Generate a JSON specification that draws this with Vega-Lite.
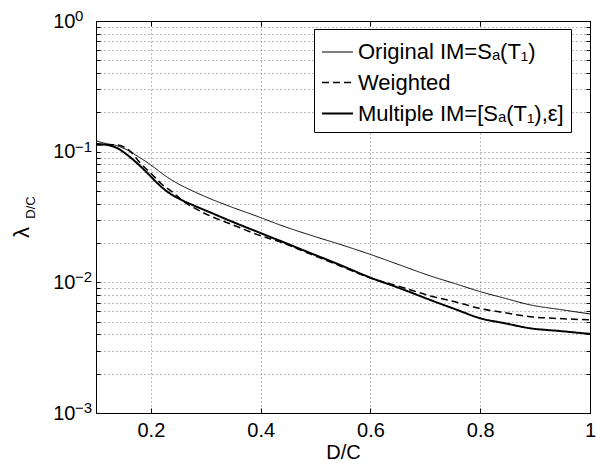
{
  "$schema": "https://vega.github.io/schema/vega-lite/v6.json",
  "width": 494,
  "height": 392,
  "autosize": "none",
  "padding": {"left": 96, "top": 21, "right": 6, "bottom": 48},
  "background": "white",
  "config": {
    "font": "Liberation Sans",
    "view": {"stroke": "black", "strokeWidth": 1},
    "axis": {
      "domainColor": "black",
      "tickColor": "black",
      "labelColor": "black",
      "titleColor": "black",
      "labelFont": "Liberation Sans",
      "titleFont": "Liberation Sans",
      "labelFontSize": 20,
      "titleFontSize": 20,
      "titleFontWeight": "normal",
      "gridColor": "#777777",
      "gridDash": [1, 3],
      "gridWidth": 1,
      "gridOpacity": 1
    }
  },
  "datasets": {
    "exps": [
      {"tick": 1, "exp": "0"},
      {"tick": 0.1, "exp": "−1"},
      {"tick": 0.01, "exp": "−2"},
      {"tick": 0.001, "exp": "−3"}
    ]
  },
  "data": {
    "values": [
      {"s": "Original IM=Sₐ(T₁)", "x": 0.100, "y": 0.121},
      {"s": "Original IM=Sₐ(T₁)", "x": 0.120, "y": 0.115},
      {"s": "Original IM=Sₐ(T₁)", "x": 0.133, "y": 0.1125},
      {"s": "Original IM=Sₐ(T₁)", "x": 0.157, "y": 0.103},
      {"s": "Original IM=Sₐ(T₁)", "x": 0.175, "y": 0.0927},
      {"s": "Original IM=Sₐ(T₁)", "x": 0.200, "y": 0.0791},
      {"s": "Original IM=Sₐ(T₁)", "x": 0.224, "y": 0.0663},
      {"s": "Original IM=Sₐ(T₁)", "x": 0.248, "y": 0.0573},
      {"s": "Original IM=Sₐ(T₁)", "x": 0.279, "y": 0.0494},
      {"s": "Original IM=Sₐ(T₁)", "x": 0.310, "y": 0.0433},
      {"s": "Original IM=Sₐ(T₁)", "x": 0.344, "y": 0.0381},
      {"s": "Original IM=Sₐ(T₁)", "x": 0.399, "y": 0.0314},
      {"s": "Original IM=Sₐ(T₁)", "x": 0.435, "y": 0.0275},
      {"s": "Original IM=Sₐ(T₁)", "x": 0.490, "y": 0.0230},
      {"s": "Original IM=Sₐ(T₁)", "x": 0.545, "y": 0.0195},
      {"s": "Original IM=Sₐ(T₁)", "x": 0.599, "y": 0.0164},
      {"s": "Original IM=Sₐ(T₁)", "x": 0.654, "y": 0.01355},
      {"s": "Original IM=Sₐ(T₁)", "x": 0.709, "y": 0.0112},
      {"s": "Original IM=Sₐ(T₁)", "x": 0.755, "y": 0.00975},
      {"s": "Original IM=Sₐ(T₁)", "x": 0.800, "y": 0.00849},
      {"s": "Original IM=Sₐ(T₁)", "x": 0.845, "y": 0.00755},
      {"s": "Original IM=Sₐ(T₁)", "x": 0.891, "y": 0.00672},
      {"s": "Original IM=Sₐ(T₁)", "x": 0.945, "y": 0.0062},
      {"s": "Original IM=Sₐ(T₁)", "x": 1.000, "y": 0.00573},
      {"s": "Weighted", "x": 0.100, "y": 0.1125},
      {"s": "Weighted", "x": 0.120, "y": 0.1130},
      {"s": "Weighted", "x": 0.139, "y": 0.1125},
      {"s": "Weighted", "x": 0.163, "y": 0.1000},
      {"s": "Weighted", "x": 0.181, "y": 0.0815},
      {"s": "Weighted", "x": 0.200, "y": 0.0684},
      {"s": "Weighted", "x": 0.218, "y": 0.0573},
      {"s": "Weighted", "x": 0.242, "y": 0.0480},
      {"s": "Weighted", "x": 0.260, "y": 0.0414},
      {"s": "Weighted", "x": 0.279, "y": 0.0371},
      {"s": "Weighted", "x": 0.308, "y": 0.0322},
      {"s": "Weighted", "x": 0.344, "y": 0.0281},
      {"s": "Weighted", "x": 0.399, "y": 0.0228},
      {"s": "Weighted", "x": 0.435, "y": 0.0204},
      {"s": "Weighted", "x": 0.490, "y": 0.0165},
      {"s": "Weighted", "x": 0.545, "y": 0.01335},
      {"s": "Weighted", "x": 0.599, "y": 0.01084},
      {"s": "Weighted", "x": 0.654, "y": 0.00927},
      {"s": "Weighted", "x": 0.709, "y": 0.00787},
      {"s": "Weighted", "x": 0.754, "y": 0.0071},
      {"s": "Weighted", "x": 0.800, "y": 0.00631},
      {"s": "Weighted", "x": 0.845, "y": 0.00585},
      {"s": "Weighted", "x": 0.891, "y": 0.00546},
      {"s": "Weighted", "x": 0.945, "y": 0.00528},
      {"s": "Weighted", "x": 1.000, "y": 0.00516},
      {"s": "Multiple IM=[Sₐ(T₁),ε]", "x": 0.100, "y": 0.1145},
      {"s": "Multiple IM=[Sₐ(T₁),ε]", "x": 0.121, "y": 0.1125},
      {"s": "Multiple IM=[Sₐ(T₁),ε]", "x": 0.139, "y": 0.1062},
      {"s": "Multiple IM=[Sₐ(T₁),ε]", "x": 0.157, "y": 0.0944},
      {"s": "Multiple IM=[Sₐ(T₁),ε]", "x": 0.175, "y": 0.0815},
      {"s": "Multiple IM=[Sₐ(T₁),ε]", "x": 0.194, "y": 0.0684},
      {"s": "Multiple IM=[Sₐ(T₁),ε]", "x": 0.212, "y": 0.0573},
      {"s": "Multiple IM=[Sₐ(T₁),ε]", "x": 0.230, "y": 0.0494},
      {"s": "Multiple IM=[Sₐ(T₁),ε]", "x": 0.254, "y": 0.0431},
      {"s": "Multiple IM=[Sₐ(T₁),ε]", "x": 0.279, "y": 0.0386},
      {"s": "Multiple IM=[Sₐ(T₁),ε]", "x": 0.308, "y": 0.0343},
      {"s": "Multiple IM=[Sₐ(T₁),ε]", "x": 0.344, "y": 0.0296},
      {"s": "Multiple IM=[Sₐ(T₁),ε]", "x": 0.399, "y": 0.0239},
      {"s": "Multiple IM=[Sₐ(T₁),ε]", "x": 0.435, "y": 0.0208},
      {"s": "Multiple IM=[Sₐ(T₁),ε]", "x": 0.490, "y": 0.0168},
      {"s": "Multiple IM=[Sₐ(T₁),ε]", "x": 0.545, "y": 0.01356},
      {"s": "Multiple IM=[Sₐ(T₁),ε]", "x": 0.599, "y": 0.0109},
      {"s": "Multiple IM=[Sₐ(T₁),ε]", "x": 0.654, "y": 0.0090},
      {"s": "Multiple IM=[Sₐ(T₁),ε]", "x": 0.709, "y": 0.00733},
      {"s": "Multiple IM=[Sₐ(T₁),ε]", "x": 0.754, "y": 0.00624},
      {"s": "Multiple IM=[Sₐ(T₁),ε]", "x": 0.800, "y": 0.00531},
      {"s": "Multiple IM=[Sₐ(T₁),ε]", "x": 0.845, "y": 0.00486},
      {"s": "Multiple IM=[Sₐ(T₁),ε]", "x": 0.891, "y": 0.00445},
      {"s": "Multiple IM=[Sₐ(T₁),ε]", "x": 0.945, "y": 0.00424},
      {"s": "Multiple IM=[Sₐ(T₁),ε]", "x": 1.000, "y": 0.00403}
    ]
  },
  "layer": [
    {
      "mark": {"type": "line", "color": "black", "strokeCap": "butt", "strokeJoin": "round", "interpolate": "monotone"},
      "encoding": {
        "x": {
          "field": "x", "type": "quantitative",
          "scale": {"domain": [0.1, 1], "nice": false, "zero": false},
          "axis": {
            "orient": "bottom", "title": "D/C", "values": [0.2, 0.4, 0.6, 0.8, 1],
            "labelExpr": "datum.value == 1 ? '1' : format(datum.value, '.1f')",
            "grid": true, "tickSize": -5, "labelPadding": 12, "titlePadding": 2,
            "labelFlush": false, "labelOverlap": false
          }
        },
        "y": {
          "field": "y", "type": "quantitative",
          "scale": {"type": "log", "domain": [0.001, 1], "nice": false},
          "axis": {
            "orient": "left", "title": "λ",
            "values": [0.001, 0.002, 0.003, 0.004, 0.005, 0.006, 0.007, 0.008, 0.009, 0.01, 0.02, 0.03, 0.04, 0.05, 0.06, 0.07, 0.08, 0.09, 0.1, 0.2, 0.3, 0.4, 0.5, 0.6, 0.7, 0.8, 0.9, 1],
            "labelExpr": "datum.value == 1 || datum.value == 0.1 || datum.value == 0.01 || datum.value == 0.001 ? '10' : ''",
            "grid": true, "tickSize": -4, "labelPadding": 25,
            "labelFlush": false, "labelOverlap": false,
            "titleFontSize": 22, "titleAngle": -90, "titleAlign": "center", "titleBaseline": "alphabetic",
            "titleX": -68, "titleY": 211
          }
        },
        "strokeDash": {
          "field": "s", "type": "nominal",
          "scale": {"domain": ["Original IM=Sₐ(T₁)", "Weighted", "Multiple IM=[Sₐ(T₁),ε]"], "range": [[1, 0], [7, 4], [1, 0]]},
          "legend": {
            "orient": "none", "legendX": 218, "legendY": 8, "title": null,
            "symbolType": "stroke", "symbolSize": 961, "symbolStrokeColor": "black",
            "labelFontSize": 22, "labelFont": "Liberation Sans", "labelColor": "black", "labelLimit": 400,
            "labelOffset": 4, "strokeColor": "black", "fillColor": "white", "padding": 7, "rowPadding": 3,
            "cornerRadius": 0
          }
        },
        "strokeWidth": {
          "field": "s", "type": "nominal",
          "scale": {"domain": ["Original IM=Sₐ(T₁)", "Weighted", "Multiple IM=[Sₐ(T₁),ε]"], "range": [1, 2, 2.5]},
          "legend": {
            "orient": "none", "legendX": 218, "legendY": 8, "title": null,
            "symbolType": "stroke", "symbolSize": 961, "symbolStrokeColor": "black",
            "labelFontSize": 22, "labelFont": "Liberation Sans", "labelColor": "black", "labelLimit": 400,
            "labelOffset": 4, "strokeColor": "black", "fillColor": "white", "padding": 7, "rowPadding": 3,
            "cornerRadius": 0
          }
        }
      }
    },
    {
      "mark": {"type": "line", "strokeOpacity": 0},
      "encoding": {
        "x": {
          "field": "x", "type": "quantitative",
          "axis": {"orient": "top", "title": null, "values": [0.2, 0.4, 0.6, 0.8, 1], "labels": false, "grid": false, "tickSize": -5}
        },
        "y": {
          "field": "y", "type": "quantitative",
          "axis": {
            "orient": "right", "title": "D/C", "grid": false, "tickSize": -4, "labels": false,
            "values": [0.001, 0.002, 0.003, 0.004, 0.005, 0.006, 0.007, 0.008, 0.009, 0.01, 0.02, 0.03, 0.04, 0.05, 0.06, 0.07, 0.08, 0.09, 0.1, 0.2, 0.3, 0.4, 0.5, 0.6, 0.7, 0.8, 0.9, 1],
            "titleFontSize": 13, "titleAngle": -90, "titleAlign": "center", "titleBaseline": "alphabetic",
            "titleX": -556, "titleY": 186
          }
        },
        "detail": {"field": "s", "type": "nominal"}
      }
    },
    {
      "data": {"name": "exps"},
      "mark": {"type": "text", "align": "left", "baseline": "middle", "dx": -21, "dy": -5, "fontSize": 15, "font": "Liberation Sans", "color": "black", "clip": false},
      "encoding": {
        "x": {"datum": 0.1, "type": "quantitative", "axis": null},
        "y": {"field": "tick", "type": "quantitative", "axis": null},
        "text": {"field": "exp", "type": "nominal"}
      }
    }
  ]
}
